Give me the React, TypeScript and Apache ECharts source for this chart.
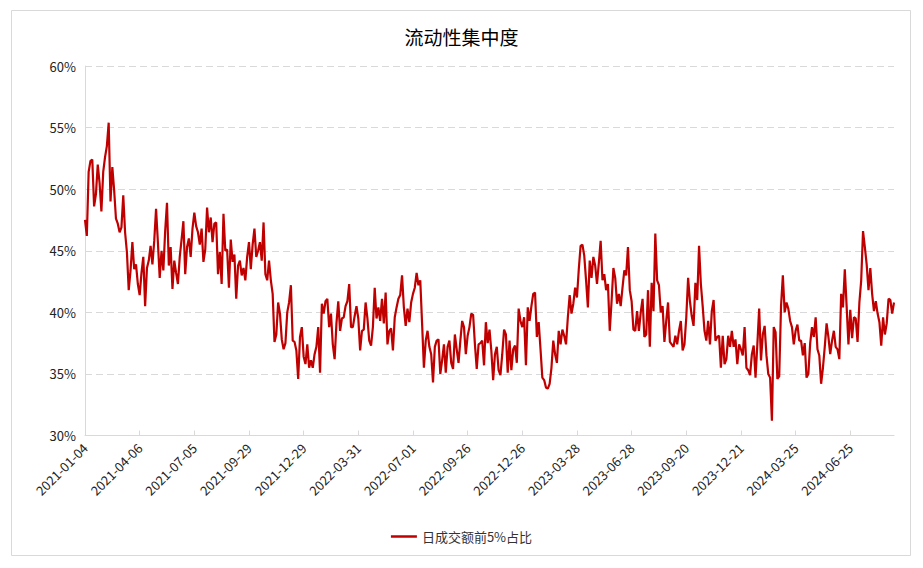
import React, { useEffect, useRef } from 'react';
import * as echarts from 'echarts';

// Tick labels shown every 60 trading days (30 sampled points)
const tickLabels = [
  '2021-01-04', '2021-04-06', '2021-07-05', '2021-09-29', '2021-12-29',
  '2022-03-31', '2022-07-01', '2022-09-26', '2022-12-26', '2023-03-28',
  '2023-06-28', '2023-09-20', '2023-12-21', '2024-03-25', '2024-06-25',
];
const STRIDE = 30;

const seriesName = '日成交额前5%占比';

// Values (%), one point every two trading days
const part2021 = [
  47.5, 46.2, 51.4, 52.3, 52.4, 48.6, 49.6, 52.0, 50.5, 48.2,
  51.4, 52.6, 53.5, 55.4, 49.0, 51.8, 49.9, 47.6, 47.2, 46.5,
  46.9, 49.5, 46.5, 44.9, 41.8, 43.4, 45.7, 43.5, 43.9, 42.3,
  41.4, 43.2, 44.5, 40.5, 43.6, 44.2, 45.4, 43.9, 45.8, 48.4,
  45.7, 42.8, 45.0, 43.4, 46.6, 48.9, 43.8, 45.3, 41.9, 44.2,
  43.2, 42.3, 44.5, 45.9, 47.4, 43.1, 45.3, 46.0, 44.5, 46.8,
  48.1, 47.0, 46.5, 45.5, 46.8, 44.1, 45.1, 48.5, 46.5, 47.7,
  45.7, 47.2, 47.3, 43.1, 44.9, 42.3, 48.0, 45.0, 45.1, 42.0,
  45.9, 44.1, 44.7, 41.1, 43.8, 44.2, 43.0, 43.6, 42.6, 44.5,
  45.7, 43.5, 45.5, 46.8, 44.5, 45.0, 45.7, 44.2, 47.3, 43.1,
  42.6, 44.2, 42.6, 41.5, 37.6, 38.2, 40.8, 39.9, 37.8, 37.0,
  37.5, 40.0, 40.8, 42.2, 37.7, 37.6, 36.9, 34.6, 38.0, 38.8,
  36.4, 35.8,
];
const part2022 = [
  37.4, 35.5, 36.1, 35.5, 36.6, 37.2, 38.8, 35.1, 40.7, 39.9,
  40.9, 41.1, 38.8, 39.9, 37.4, 36.2, 39.1, 40.9, 38.5, 39.5,
  39.6, 40.5, 40.9, 42.3, 38.8, 38.8, 39.7, 40.5, 39.5, 36.9,
  38.5, 38.6, 40.8, 39.5, 37.7, 37.3, 38.8, 42.0, 39.5, 40.4,
  39.3, 41.1, 39.1, 41.6, 37.4, 38.5, 38.7, 36.9, 39.6, 40.4,
  41.1, 41.4, 43.0, 40.4, 38.9, 40.3, 39.2, 40.8, 41.5, 42.0,
  43.2, 42.2, 42.6, 39.1, 35.5, 37.7, 38.5, 37.2, 36.6, 34.3,
  37.2, 37.7, 37.8, 35.0, 36.1, 37.4, 35.1, 37.2, 37.7, 35.9,
  35.4, 38.2, 37.0, 35.9, 37.7, 39.3, 38.8, 36.6, 38.1, 38.8,
  39.9, 39.8, 37.4, 35.4, 37.4, 37.5, 37.7, 35.7, 39.2, 37.5,
  38.6, 36.9, 34.5, 36.6, 37.2, 35.3, 34.9, 36.6, 38.6, 38.2,
  35.1, 37.7, 35.3, 37.0, 37.3, 35.9, 40.3, 39.3, 38.8, 39.6,
  35.7,
];
const part2023 = [
  40.4, 39.3, 40.5, 41.5, 41.6, 38.0, 39.2, 37.0, 34.7, 34.5,
  33.9, 33.8, 34.2, 35.5, 37.7, 36.6, 35.9, 38.5, 37.4, 38.6,
  38.1, 37.4, 39.6, 41.4, 39.9, 40.7, 42.0, 41.2, 43.5, 45.4,
  45.5, 44.6, 42.6, 40.4, 44.2, 42.8, 44.5, 43.8, 42.3, 44.0,
  45.8, 42.6, 43.1, 41.8, 42.3, 38.5, 40.9, 43.6, 42.8, 40.7,
  41.5, 40.5, 42.0, 43.4, 43.0, 45.3, 41.8, 40.9, 38.6, 38.5,
  40.1, 38.5, 40.0, 41.1, 38.0, 38.2, 41.8, 37.2, 42.4, 40.1,
  46.4, 42.6, 42.2, 40.0, 40.5, 37.6, 39.3, 40.8, 37.6, 37.4,
  37.2, 38.1, 37.4, 38.5, 39.3, 36.9, 37.4, 39.6, 42.8, 40.9,
  39.7, 38.9, 42.4, 41.0, 45.4, 42.3, 40.5, 38.5, 37.7, 39.3,
  37.4, 40.1, 41.0, 37.7, 38.0, 38.1, 35.5, 38.1, 35.8, 36.2,
  38.1, 37.2, 38.5, 37.2, 37.8, 35.8, 37.4, 37.0, 36.5, 38.8,
  35.5,
];
const part2024 = [
  35.3, 34.9, 36.6, 37.3, 34.7, 37.4, 40.3, 36.1, 38.2, 38.9,
  36.5, 35.0, 34.7, 31.2, 38.8, 38.4, 34.6, 34.8, 40.5, 43.0,
  40.0, 40.8, 40.3, 39.3, 38.8, 37.4, 38.5, 39.0, 37.7, 37.7,
  36.5, 37.5, 34.7, 35.0, 37.5, 38.8, 38.0, 39.6, 37.0, 36.5,
  34.2, 35.5, 37.2, 39.1, 38.0, 36.6, 37.7, 38.5, 37.2, 37.0,
  36.2, 41.5, 40.4, 43.5, 40.5, 37.4, 40.2, 37.9, 39.6, 39.5,
  37.6, 40.8, 42.6, 46.6, 45.3, 43.9, 41.8, 43.6, 41.5, 40.1,
  40.9, 39.9, 39.2, 37.3, 39.6, 38.2, 39.1, 41.1, 41.0, 39.9,
  40.8,
];

const seriesValues = [...part2021, ...part2022, ...part2023, ...part2024];
const categories = seriesValues.map((_, i) => String(i));

const FONT = "'Noto Sans CJK SC', 'Noto Sans', sans-serif";
const LINE_COLOR = '#C00000';
const GRAY = '#d9d9d9';

export default function App() {
  const ref = useRef<HTMLDivElement>(null);

  useEffect(() => {
    if (!ref.current) return;
    const chart = echarts.init(ref.current, undefined, { renderer: 'svg' });
    const option: any = {
      animation: false,
      backgroundColor: '#ffffff',
      textStyle: { fontFamily: FONT },
      title: {
        text: '流动性集中度',
        left: 'center',
        top: 22,
        textStyle: { fontSize: 19, fontWeight: 'normal', color: '#000000', fontFamily: FONT },
      },
      grid: { left: 85, right: 29, top: 66, bottom: 132.5 },
      legend: {
        top: 525,
        left: 'center',
        icon: 'rect',
        itemWidth: 26,
        itemHeight: 2.5,
        itemGap: 10,
        textStyle: { fontSize: 13, color: '#333333', fontFamily: FONT, padding: [0, 0, 0, 0] },
        data: [seriesName],
      },
      xAxis: {
        type: 'category',
        boundaryGap: false,
        data: categories,
        axisLine: { show: true, lineStyle: { color: GRAY, width: 1 } },
        axisTick: {
          show: true,
          inside: true,
          length: 5,
          interval: STRIDE - 1,
          lineStyle: { color: GRAY },
        },
        axisLabel: {
          interval: STRIDE - 1,
          rotate: 45,
          margin: 10,
          fontSize: 13,
          color: '#222222',
          fontFamily: FONT,
          formatter: (_v: string, idx: number) => {
            const k = idx / STRIDE;
            return Number.isInteger(k) && tickLabels[k] ? tickLabels[k] : '';
          },
        },
        splitLine: { show: false },
      },
      yAxis: {
        type: 'value',
        min: 30,
        max: 60,
        interval: 5,
        axisLine: { show: true, lineStyle: { color: GRAY, width: 1 } },
        axisTick: { show: false },
        axisLabel: {
          formatter: '{value}%',
          fontSize: 13,
          color: '#222222',
          margin: 9,
          fontFamily: FONT,
        },
        splitLine: { show: true, lineStyle: { type: [7, 4], color: GRAY, width: 1 } },
      },
      series: [
        {
          name: seriesName,
          type: 'line',
          data: seriesValues,
          symbol: 'none',
          showSymbol: false,
          lineStyle: { color: LINE_COLOR, width: 2.2 },
          itemStyle: { color: LINE_COLOR },
        },
      ],
      graphic: [
        {
          type: 'rect',
          silent: true,
          z: -10,
          shape: { x: 11.5, y: 10.5, width: 899, height: 545 },
          style: { fill: 'none', stroke: GRAY, lineWidth: 1 },
        },
      ],
    };
    chart.setOption(option);
    return () => chart.dispose();
  }, []);

  return (
    <div
      ref={ref}
      style={{ position: 'fixed', left: 0, top: 0, width: 923, height: 568 }}
    />
  );
}
